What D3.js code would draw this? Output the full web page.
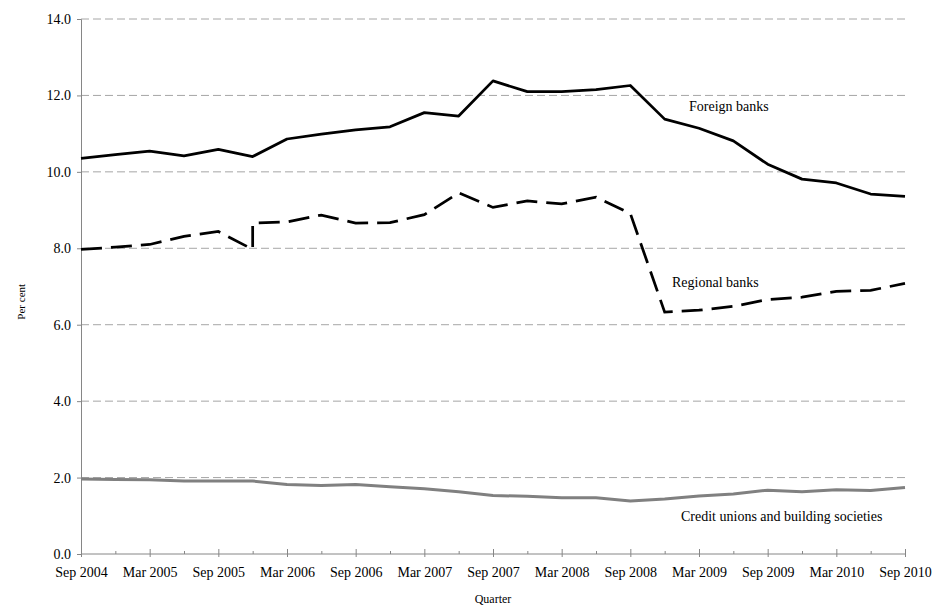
<!DOCTYPE html>
<html>
<head>
<meta charset="utf-8">
<script src="https://cdn.jsdelivr.net/npm/d3@7"></script>
<style>
  body { margin: 0; background: #fff; }
  text { font-family: "Liberation Serif", "Times New Roman", serif; fill: #000; }
</style>
</head>
<body>
<svg id="chart" width="943" height="608"></svg>
<script>
// quarterly observations, Sep 2004 - Sep 2010
const quarters = [
  "Sep 2004", "Dec 2004", "Mar 2005", "Jun 2005", "Sep 2005", "Dec 2005",
  "Mar 2006", "Jun 2006", "Sep 2006", "Dec 2006", "Mar 2007", "Jun 2007",
  "Sep 2007", "Dec 2007", "Mar 2008", "Jun 2008", "Sep 2008", "Dec 2008",
  "Mar 2009", "Jun 2009", "Sep 2009", "Dec 2009", "Mar 2010", "Jun 2010",
  "Sep 2010"
];

const foreignBanks = [
  10.35, 10.45, 10.54, 10.42, 10.59, 10.40, 10.86, 10.99, 11.10, 11.18,
  11.55, 11.46, 12.38, 12.10, 12.10, 12.15, 12.26, 11.38, 11.14, 10.81,
  10.20, 9.81, 9.71, 9.42, 9.36
];

// regional series has a break in Dec 2005 (two observations on that quarter)
const regionalQuarters = [
  "Sep 2004", "Dec 2004", "Mar 2005", "Jun 2005", "Sep 2005", "Dec 2005",
  "Dec 2005", "Mar 2006", "Jun 2006", "Sep 2006", "Dec 2006", "Mar 2007",
  "Jun 2007", "Sep 2007", "Dec 2007", "Mar 2008", "Jun 2008", "Sep 2008",
  "Dec 2008", "Mar 2009", "Jun 2009", "Sep 2009", "Dec 2009", "Mar 2010",
  "Jun 2010", "Sep 2010"
];
const regionalBanks = [
  7.97, 8.03, 8.10, 8.31, 8.44, 7.97, 8.66, 8.69, 8.87, 8.66, 8.67, 8.88,
  9.45, 9.07, 9.24, 9.16, 9.34, 8.91, 6.33, 6.38, 6.48, 6.66, 6.72, 6.87,
  6.90, 7.08
];

const creditUnions = [
  1.96, 1.95, 1.94, 1.91, 1.91, 1.91, 1.82, 1.79, 1.82, 1.76, 1.71, 1.63,
  1.53, 1.51, 1.47, 1.47, 1.39, 1.44, 1.52, 1.57, 1.67, 1.63, 1.68, 1.66,
  1.74
];

const yTicks = [0, 2, 4, 6, 8, 10, 12, 14];

const svg = d3.select("#chart");
const axisColor = "#868686";
const gridColor = "#a6a6a6";

const x = d3.scaleLinear().domain([0, quarters.length - 1]).range([81, 905]);
const y = d3.scaleLinear().domain([0, 14]).range([554, 19]);

// gridlines
svg.append("g")
  .selectAll("line")
  .data(yTicks.filter((d) => d > 0))
  .join("line")
  .attr("x1", x(0))
  .attr("x2", x(quarters.length - 1))
  .attr("y1", (d) => y(d))
  .attr("y2", (d) => y(d))
  .attr("stroke", gridColor)
  .attr("stroke-width", 1)
  .attr("stroke-dasharray", "8,4");

// y axis
const yAxis = d3.axisLeft(y)
  .tickValues(yTicks)
  .tickFormat(d3.format(".1f"))
  .tickSize(4)
  .tickPadding(6);
const yAxisG = svg.append("g")
  .attr("transform", `translate(${x(0)},0)`)
  .call(yAxis);
yAxisG.select(".domain").attr("stroke", axisColor);
yAxisG.selectAll(".tick line").attr("stroke", axisColor);
yAxisG.selectAll(".tick text")
  .attr("font-size", "14px")
  .attr("font-family", "Liberation Serif, serif")
  .attr("fill", "#000");

// x axis: every quarter gets a tick, every second one a label
const xAxis = d3.axisBottom(x)
  .tickValues(d3.range(quarters.length))
  .tickFormat((i) => (i % 2 === 0 ? quarters[i] : ""))
  .tickSize(3)
  .tickPadding(10);
const xAxisG = svg.append("g")
  .attr("transform", `translate(0,${y(0)})`)
  .call(xAxis);
xAxisG.select(".domain").attr("stroke", axisColor).attr("d", `M${x(0)},0H${x(quarters.length - 1)}`);
xAxisG.selectAll(".tick line")
  .attr("stroke", axisColor)
  .attr("y1", (i) => (i % 2 === 0 ? -5 : -3))
  .attr("y2", (i) => (i % 2 === 0 ? 3 : 0));
xAxisG.selectAll(".tick text")
  .attr("font-size", "14px")
  .attr("font-family", "Liberation Serif, serif")
  .attr("fill", "#000");

// axis titles
svg.append("text")
  .attr("x", (x(0) + x(quarters.length - 1)) / 2)
  .attr("y", 603)
  .attr("text-anchor", "middle")
  .attr("font-size", "12px")
  .text("Quarter");

svg.append("text")
  .attr("transform", `translate(25,${y(6.6)}) rotate(-90)`)
  .attr("text-anchor", "middle")
  .attr("font-size", "11px")
  .text("Per cent");

// series
const lineGen = d3.line()
  .x((d) => x(d.q))
  .y((d) => y(d.v));

const foreignData = foreignBanks.map((v, i) => ({ q: i, v: v }));
const regionalData = regionalBanks.map((v, i) => ({ q: quarters.indexOf(regionalQuarters[i]), v: v }));
const creditData = creditUnions.map((v, i) => ({ q: i, v: v }));

svg.append("path")
  .datum(creditData)
  .attr("d", lineGen)
  .attr("fill", "none")
  .attr("stroke", "#808080")
  .attr("stroke-width", 3)
  .attr("stroke-linejoin", "round");

svg.append("path")
  .datum(regionalData)
  .attr("d", lineGen)
  .attr("fill", "none")
  .attr("stroke", "#000")
  .attr("stroke-width", 2.75)
  .attr("stroke-dasharray", "21,9");

svg.append("path")
  .datum(foreignData)
  .attr("d", lineGen)
  .attr("fill", "none")
  .attr("stroke", "#000")
  .attr("stroke-width", 2.75)
  .attr("stroke-linejoin", "round");

// series labels
const labels = [
  { text: "Foreign banks", x: 689, y: 111 },
  { text: "Regional banks", x: 672, y: 287 },
  { text: "Credit unions and building societies", x: 681, y: 521 }
];
svg.append("g")
  .selectAll("text")
  .data(labels)
  .join("text")
  .attr("x", (d) => d.x)
  .attr("y", (d) => d.y)
  .attr("font-size", "14px")
  .text((d) => d.text);
</script>
</body>
</html>
